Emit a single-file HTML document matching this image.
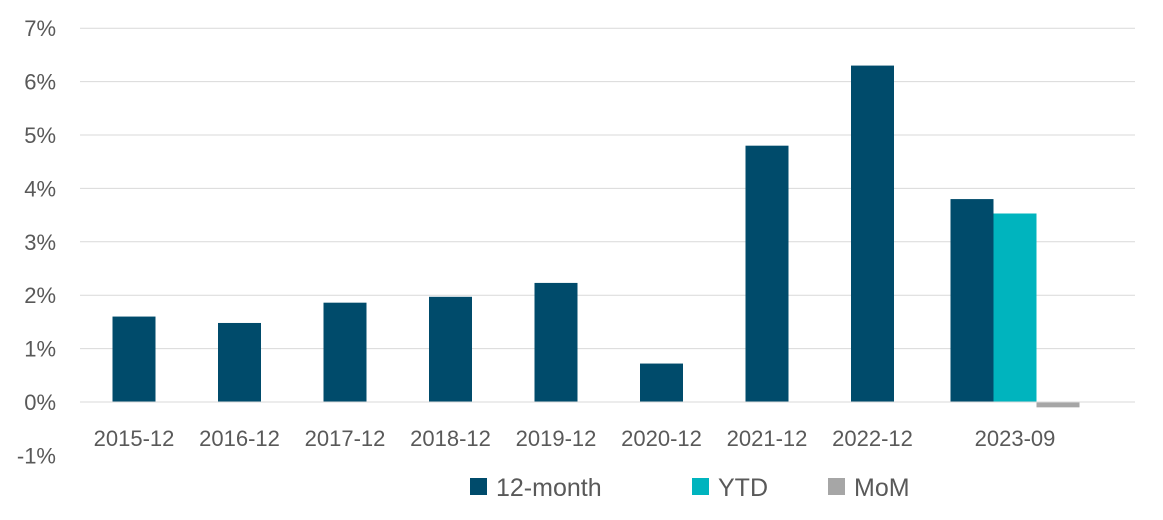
<!DOCTYPE html>
<html><head><meta charset="utf-8"><style>
body{margin:0;background:#fff;}
svg{display:block;font-family:"Liberation Sans",sans-serif;}
</style></head><body>
<svg id="chart" width="1163" height="520"></svg>
<script>
const categories=["2015-12","2016-12","2017-12","2018-12","2019-12","2020-12","2021-12","2022-12","2023-09"];
const month12=[1.6,1.48,1.86,1.97,2.23,0.72,4.8,6.3,3.8];
const ytd=[null,null,null,null,null,null,null,null,3.53];
const mom=[null,null,null,null,null,null,null,null,-0.1];
const yTicks=[-1,0,1,2,3,4,5,6,7];
const seriesNames=["12-month","YTD","MoM"];
const colors=["#004b6b","#00b4be","#a6a6a6"];
const ns="http://www.w3.org/2000/svg";
const svg=document.getElementById("chart");
const X0=80,X1=1135,y0=402,pxPer=53.4,bw=43;
function y(v){return y0-v*pxPer;}
function catX(i){return i<8?134+i*105.5:1015;}
function mk(t,a){const e=document.createElementNS(ns,t);for(const k in a)e.setAttribute(k,a[k]);svg.appendChild(e);return e;}
yTicks.forEach(t=>{
  if(t!==0&&t>=0){const l=mk("line",{x1:X0,x2:X1,y1:y(t),y2:y(t),stroke:"#d9d9d9","stroke-width":1});
  
  }
  const tx=mk("text",{x:56,y:y(t)+8,"text-anchor":"end","font-size":22,fill:"#595959"});
  tx.textContent=t+"%";
  
  
});
categories.forEach((c,i)=>{
  const cx=catX(i);
  const sets=[month12[i],ytd[i],mom[i]];
  const present=sets.map((v,k)=>v===null?-1:k).filter(k=>k>=0);
  present.forEach((k,j)=>{
    const v=sets[k];
    const left=cx-present.length*bw/2+j*bw;
    const r=mk("rect",{x:left,y:Math.min(y(v),y0),width:bw,height:Math.abs(y(v)-y0),fill:colors[k]});
    
    
  });
  const tx=mk("text",{x:cx,y:446,"text-anchor":"middle","font-size":22,fill:"#595959"});
  tx.textContent=c;
  
  
});
const ax=mk("line",{x1:X0,x2:X1,y1:y0,y2:y0,stroke:"#d9d9d9","stroke-width":1});


const lx=[470,692,828];
seriesNames.forEach((n,k)=>{
  const r=mk("rect",{x:lx[k],y:478,width:17,height:17,fill:colors[k]});
  
  
  const t=mk("text",{x:lx[k]+26,y:496,"font-size":25,fill:"#595959"});
  t.textContent=n;
  
  
});
</script>
</body></html>
